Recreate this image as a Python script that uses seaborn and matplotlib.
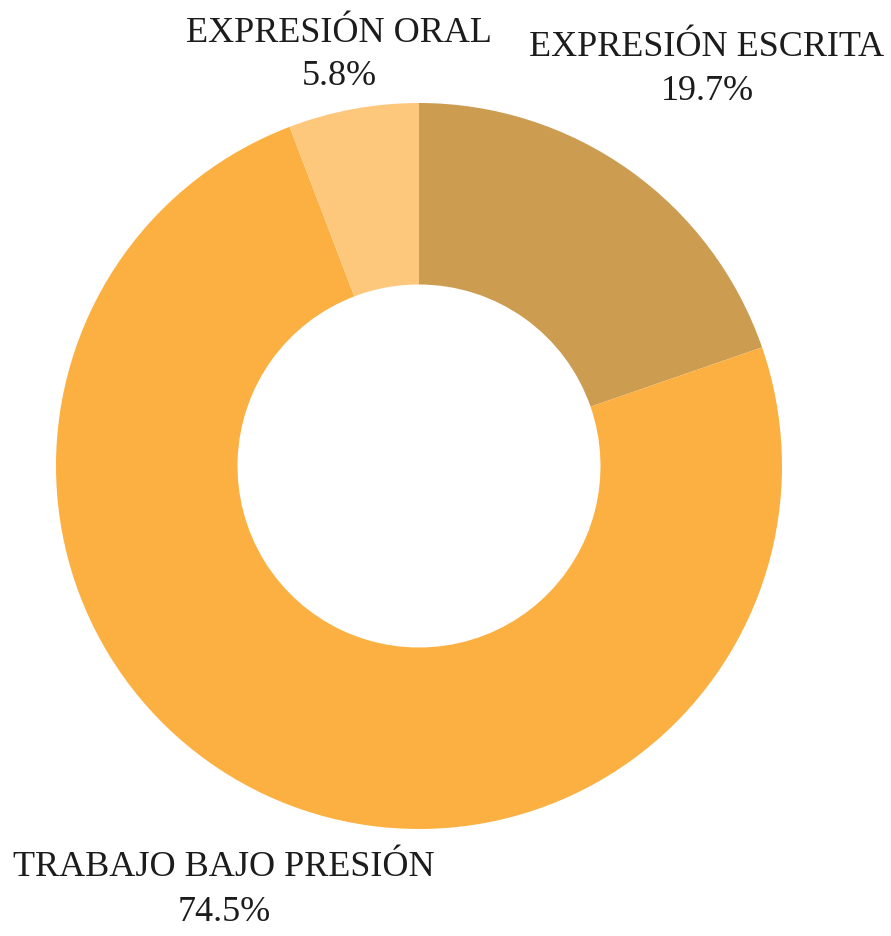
import matplotlib
matplotlib.use("Agg")
import matplotlib.pyplot as plt
import seaborn as sns

# Data
labels = ['EXPRESIÓN ESCRITA', 'TRABAJO BAJO PRESIÓN', 'EXPRESIÓN ORAL']
values = [19.7, 74.5, 5.8]
colors = ['#CC9C51', '#FCB042', '#FDC87C']

W, H = 891, 937
CX, CY, R = 419, 467, 363  # donut centre / radius in pixels


def px(x, y):
    # pixel (from top-left) -> data coords
    return (x - CX) / R, (CY - y) / R


def generate_plot():
    sns.set_theme(style='white')
    plt.rcParams['font.family'] = ['Liberation Serif', 'DejaVu Serif']

    fig = plt.figure(figsize=(W / 100, H / 100), dpi=100)
    ax = fig.add_axes([0, 0, 1, 1])
    ax.pie(values, colors=colors, startangle=90, counterclock=False,
           radius=1, wedgeprops=dict(width=0.5, edgecolor='none'))
    ax.set_xlim(-CX / R, (W - CX) / R)
    ax.set_ylim(-(H - CY) / R, CY / R)
    ax.set_aspect('auto')
    ax.axis('off')

    # label positions (pixels)
    pos = {
        'EXPRESIÓN ESCRITA': ((707, 47), (707, 91)),
        'TRABAJO BAJO PRESIÓN': ((224, 868), (224, 913)),
        'EXPRESIÓN ORAL': ((339, 33), (339, 76)),
    }
    for lab, val in zip(labels, values):
        (x1, y1), (x2, y2) = pos[lab]
        ax.text(*px(x1, y1), lab, ha='center', va='center', fontsize=26, color='#1c1c1c')
        ax.text(*px(x2, y2), f'{val}%', ha='center', va='center', fontsize=26, color='#1c1c1c')

    fig.savefig('out.png', dpi=100, facecolor='white')
    plt.close(fig)


if __name__ == '__main__':
    generate_plot()
